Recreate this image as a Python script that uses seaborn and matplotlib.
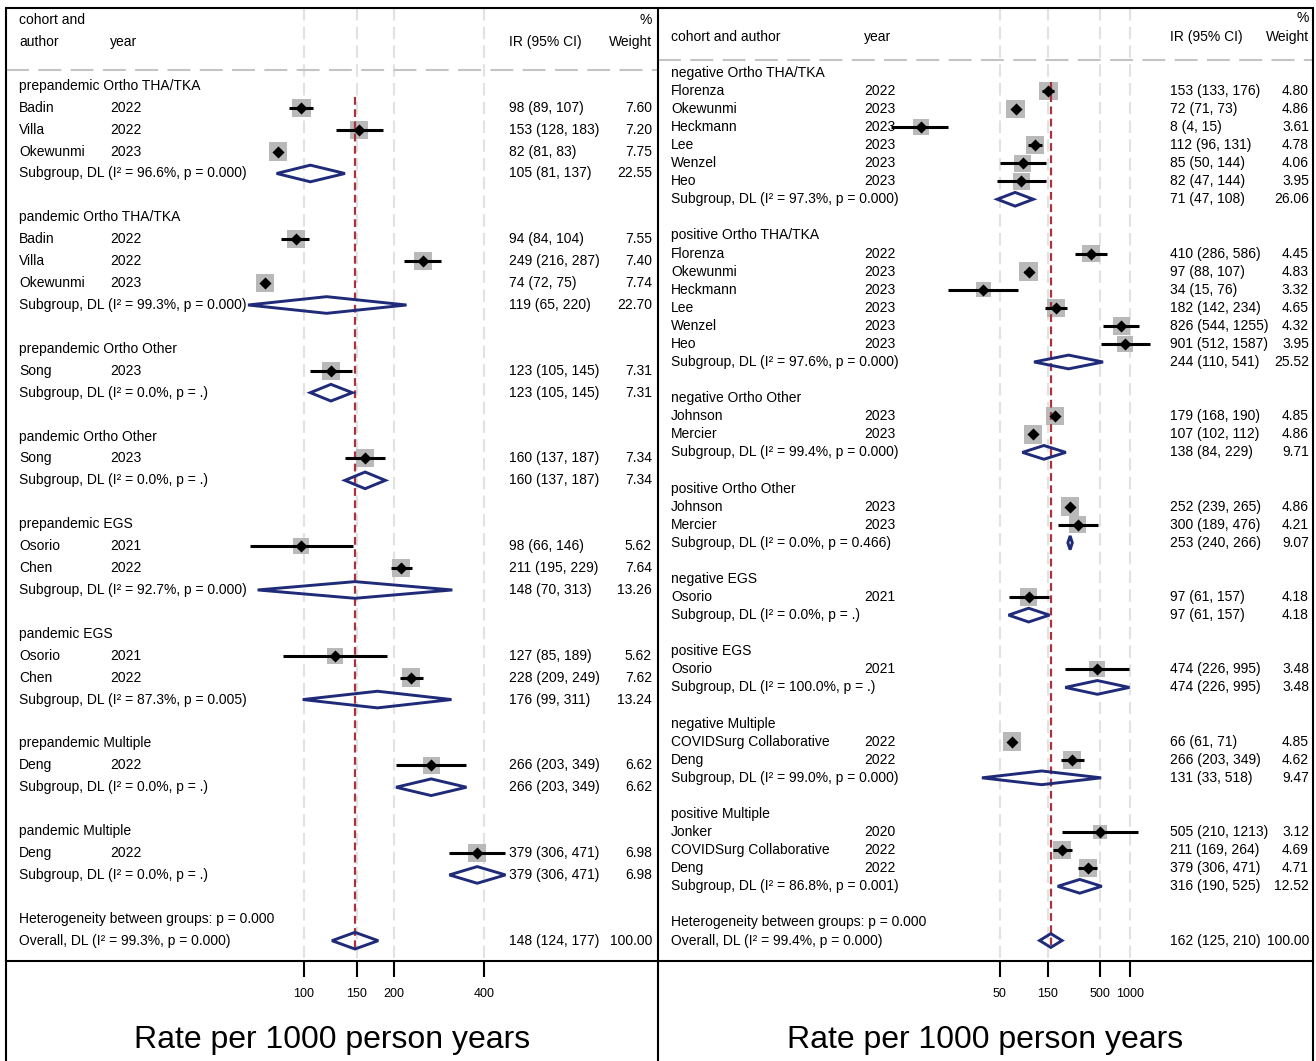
import numpy as np
import pandas as pd
import matplotlib.pyplot as plt
import matplotlib.lines as mlines
from matplotlib.patches import Polygon
from matplotlib.ticker import FixedLocator, FixedFormatter, NullLocator
from matplotlib.transforms import blended_transform_factory
import seaborn as sns

# ---- left panel: prepandemic vs pandemic ----
left_groups = ["prepandemic Ortho THA/TKA", "pandemic Ortho THA/TKA",
               "prepandemic Ortho Other", "pandemic Ortho Other",
               "prepandemic EGS", "pandemic EGS",
               "prepandemic Multiple", "pandemic Multiple"]
left_study_group = [0, 0, 0, 1, 1, 1, 2, 3, 4, 4, 5, 5, 6, 7]
left_authors = ["Badin", "Villa", "Okewunmi", "Badin", "Villa", "Okewunmi",
                "Song", "Song", "Osorio", "Chen", "Osorio", "Chen", "Deng", "Deng"]
left_years = [2022, 2022, 2023, 2022, 2022, 2023, 2023, 2023, 2021, 2022, 2021, 2022, 2022, 2022]
left_ir = [98, 153, 82, 94, 249, 74, 123, 160, 98, 211, 127, 228, 266, 379]
left_lo = [89, 128, 81, 84, 216, 72, 105, 137, 66, 195, 85, 209, 203, 306]
left_hi = [107, 183, 83, 104, 287, 75, 145, 187, 146, 229, 189, 249, 349, 471]
left_weight = [7.60, 7.20, 7.75, 7.55, 7.40, 7.74, 7.31, 7.34, 5.62, 7.64, 5.62, 7.62, 6.62, 6.98]

left_sub_i2 = [96.6, 99.3, 0.0, 0.0, 92.7, 87.3, 0.0, 0.0]
left_sub_p = ["0.000", "0.000", ".", ".", "0.000", "0.005", ".", "."]
left_sub_ir = [105, 119, 123, 160, 148, 176, 266, 379]
left_sub_lo = [81, 65, 105, 137, 70, 99, 203, 306]
left_sub_hi = [137, 220, 145, 187, 313, 311, 349, 471]
left_sub_weight = [22.55, 22.70, 7.31, 7.34, 13.26, 13.24, 6.62, 6.98]

left_overall = [148, 124, 177]
left_overall_i2 = 99.3
left_overall_p = "0.000"
left_het_p = "0.000"
left_ticks = [100, 150, 200, 400]

# ---- right panel: negative vs positive ----
right_groups = ["negative Ortho THA/TKA", "positive Ortho THA/TKA",
                "negative Ortho Other", "positive Ortho Other",
                "negative EGS", "positive EGS",
                "negative Multiple", "positive Multiple"]
right_study_group = [0, 0, 0, 0, 0, 0, 1, 1, 1, 1, 1, 1, 2, 2, 3, 3, 4, 5, 6, 6, 7, 7, 7]
right_authors = ["Florenza", "Okewunmi", "Heckmann", "Lee", "Wenzel", "Heo",
                 "Florenza", "Okewunmi", "Heckmann", "Lee", "Wenzel", "Heo",
                 "Johnson", "Mercier", "Johnson", "Mercier", "Osorio", "Osorio",
                 "COVIDSurg Collaborative", "Deng",
                 "Jonker", "COVIDSurg Collaborative", "Deng"]
right_years = [2022, 2023, 2023, 2023, 2023, 2023,
               2022, 2023, 2023, 2023, 2023, 2023,
               2023, 2023, 2023, 2023, 2021, 2021,
               2022, 2022, 2020, 2022, 2022]
right_ir = [153, 72, 8, 112, 85, 82, 410, 97, 34, 182, 826, 901,
            179, 107, 252, 300, 97, 474, 66, 266, 505, 211, 379]
right_lo = [133, 71, 4, 96, 50, 47, 286, 88, 15, 142, 544, 512,
            168, 102, 239, 189, 61, 226, 61, 203, 210, 169, 306]
right_hi = [176, 73, 15, 131, 144, 144, 586, 107, 76, 234, 1255, 1587,
            190, 112, 265, 476, 157, 995, 71, 349, 1213, 264, 471]
right_weight = [4.80, 4.86, 3.61, 4.78, 4.06, 3.95, 4.45, 4.83, 3.32, 4.65, 4.32, 3.95,
                4.85, 4.86, 4.86, 4.21, 4.18, 3.48, 4.85, 4.62, 3.12, 4.69, 4.71]

right_sub_i2 = [97.3, 97.6, 99.4, 0.0, 0.0, 100.0, 99.0, 86.8]
right_sub_p = ["0.000", "0.000", "0.000", "0.466", ".", ".", "0.000", "0.001"]
right_sub_ir = [71, 244, 138, 253, 97, 474, 131, 316]
right_sub_lo = [47, 110, 84, 240, 61, 226, 33, 190]
right_sub_hi = [108, 541, 229, 266, 157, 995, 518, 525]
right_sub_weight = [26.06, 25.52, 9.71, 9.07, 4.18, 3.48, 9.47, 12.52]

right_overall = [162, 125, 210]
right_overall_i2 = 99.4
right_overall_p = "0.000"
right_het_p = "0.000"
right_ticks = [50, 150, 500, 1000]

W, H = 1316, 1061
NAVY = "#1f2a78"
RED = "#a8323e"
BOX = "#b9b9b9"
GRID = "#e2e2e2"
FS = 10

sns.set_style("white")
plt.rcParams["font.family"] = ["Liberation Sans", "DejaVu Sans"]

fig = plt.figure(figsize=(W / 100, H / 100), dpi=100)


def draw_panel(ax, groups, study_group, authors, years, ir, lo, hi, wt,
               sub_i2, sub_p, sub_ir, sub_lo, sub_hi, sub_wt,
               overall, overall_i2, overall_p, het_p, ticks,
               xlim, ylim, cols, head_top, head_name):
    name_x, year_x, ir_x, wt_x = [c / W for c in cols]
    tr = blended_transform_factory(fig.transFigure, ax.transData)

    def txt(x, y, s, ha="left"):
        ax.text(x, y, s, transform=tr, ha=ha, va="center", fontsize=FS, color="black")

    # header
    txt(name_x, -3, head_top)
    txt(wt_x, -3, "%", ha="right")
    txt(name_x, -2, head_name)
    txt(year_x, -2, "year")
    txt(ir_x, -2, "IR (95% CI)")
    txt(wt_x, -2, "Weight", ha="right")
    ax.axhline(-0.73, color="#c4c4c4", lw=1.5, dashes=(11, 4.5), zorder=1)

    rows = []
    row = 0
    for g, gname in enumerate(groups):
        txt(name_x, row, gname)
        row += 1
        for i in [k for k, sg in enumerate(study_group) if sg == g]:
            rows.append(row)
            txt(name_x, row, authors[i])
            txt(year_x, row, str(years[i]))
            txt(ir_x, row, f"{ir[i]} ({lo[i]}, {hi[i]})")
            txt(wt_x, row, f"{wt[i]:.2f}", ha="right")
            row += 1
        # subgroup diamond
        txt(name_x, row, f"Subgroup, DL (I\u00b2 = {sub_i2[g]:.1f}%, p = {sub_p[g]})")
        txt(ir_x, row, f"{sub_ir[g]} ({sub_lo[g]}, {sub_hi[g]})")
        txt(wt_x, row, f"{sub_wt[g]:.2f}", ha="right")
        ax.add_patch(Polygon([[sub_lo[g], row], [sub_ir[g], row - 0.38],
                              [sub_hi[g], row], [sub_ir[g], row + 0.38]],
                             closed=True, fill=False, edgecolor=NAVY, lw=2.1, zorder=4))
        row += 2

    txt(name_x, row, f"Heterogeneity between groups: p = {het_p}")
    row += 1
    txt(name_x, row, f"Overall, DL (I\u00b2 = {overall_i2:.1f}%, p = {overall_p})")
    txt(ir_x, row, f"{overall[0]} ({overall[1]}, {overall[2]})")
    txt(wt_x, row, "100.00", ha="right")
    ax.add_patch(Polygon([[overall[1], row], [overall[0], row - 0.38],
                          [overall[2], row], [overall[0], row + 0.38]],
                         closed=True, fill=False, edgecolor=NAVY, lw=2.1, zorder=4))

    df = pd.DataFrame({"ir": ir, "row": rows, "weight": wt})
    wmax = max(wt)
    k = 178.0 / wmax
    sns.scatterplot(data=df, x="ir", y="row", size="weight",
                    sizes=(k * min(wt), k * wmax), size_norm=(min(wt), wmax),
                    marker="s", color=BOX, linewidth=0, legend=False, ax=ax, zorder=2)
    ax.hlines(rows, lo, hi, color="black", lw=2.2, zorder=4)
    sns.scatterplot(data=df, x="ir", y="row", marker="D", s=38, color="black",
                    linewidth=0, legend=False, ax=ax, zorder=5)

    # reference line at overall estimate
    ax.vlines(overall[0], 0.5, row + 0.4, color=RED, lw=1.6, linestyles=(0, (3.5, 2)), zorder=3)
    # light vertical grid
    ax.vlines(ticks, ylim[1], ylim[0], color=GRID, lw=1.5, linestyles=(0, (6, 3)), zorder=0)

    ax.set_xscale("log")
    ax.set_xlim(*xlim)
    ax.set_ylim(*ylim)
    ax.xaxis.set_major_locator(FixedLocator(ticks))
    ax.xaxis.set_major_formatter(FixedFormatter([str(t) for t in ticks]))
    ax.xaxis.set_minor_locator(NullLocator())
    ax.set_yticks([])
    ax.set_xlabel("")
    ax.set_ylabel("")
    ax.tick_params(axis="x", direction="out", length=11.5, width=1.5, pad=8,
                   labelsize=9, colors="black", bottom=True)
    for side in ["top", "left", "right"]:
        ax.spines[side].set_visible(False)
    ax.spines["bottom"].set_color("black")
    ax.spines["bottom"].set_linewidth(1.5)
    ax.patch.set_alpha(0)


def px_to_log(px, px_ref, v_ref, scale):
    return float(np.exp(np.log(v_ref) + (px - px_ref) / scale))


y_axis = 961
y_top = 8
ax_l = fig.add_axes([6 / W, 1 - y_axis / H, (658 - 6) / W, (y_axis - y_top) / H])
ax_r = fig.add_axes([658 / W, 1 - y_axis / H, (1313 - 658) / W, (y_axis - y_top) / H])

l_xlim = (px_to_log(6, 304, 100, 130), px_to_log(658, 304, 100, 130))
r_xlim = (px_to_log(658, 1047.5, 150, 43.3), px_to_log(1313, 1047.5, 150, 43.3))
l_ylim = ((y_axis - 85.8) / 21.92, (y_top - 85.8) / 21.92)
r_ylim = ((y_axis - 72.7) / 18.08, (y_top - 72.7) / 18.08)

draw_panel(ax_l, left_groups, left_study_group, left_authors, left_years,
           left_ir, left_lo, left_hi, left_weight,
           left_sub_i2, left_sub_p, left_sub_ir, left_sub_lo, left_sub_hi, left_sub_weight,
           left_overall, left_overall_i2, left_overall_p, left_het_p, left_ticks,
           l_xlim, l_ylim, (19, 110, 509, 652), "cohort and", "author")
draw_panel(ax_r, right_groups, right_study_group, right_authors, right_years,
           right_ir, right_lo, right_hi, right_weight,
           right_sub_i2, right_sub_p, right_sub_ir, right_sub_lo, right_sub_hi, right_sub_weight,
           right_overall, right_overall_i2, right_overall_p, right_het_p, right_ticks,
           r_xlim, r_ylim, (671, 864, 1170, 1309), "", "cohort and author")

# x-axis titles
for cx in [(6 + 658) / 2, (658 + 1313) / 2]:
    fig.text(cx / W, 1 - 1040 / H, "Rate per 1000 person years", ha="center", va="center",
             fontsize=23, color="black")

# panel borders
for x in [6, 658, 1313]:
    fig.add_artist(mlines.Line2D([x / W, x / W], [0, 1 - y_top / H], color="black", lw=1.5,
                                 transform=fig.transFigure))
fig.add_artist(mlines.Line2D([6 / W, 1313 / W], [1 - y_top / H, 1 - y_top / H], color="black",
                             lw=1.5, transform=fig.transFigure))

fig.savefig("out.png", dpi=100, facecolor="white")
